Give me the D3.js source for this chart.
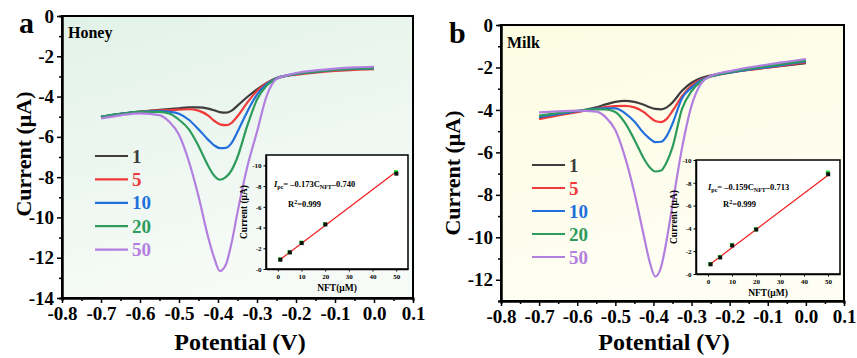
<!DOCTYPE html>
<html>
<head>
<meta charset="utf-8">
<script src="https://cdnjs.cloudflare.com/ajax/libs/d3/7.8.5/d3.min.js"></script>
<style>
  body { margin: 0; background: #fff; }
  svg text { font-family: "Liberation Serif", "Times New Roman", serif; font-weight: bold; }
</style>
</head>
<body>
<svg id="chart" width="857" height="358"></svg>
<script>
// potential grid (V) shared by every DPV curve
var potential = [-0.70, -0.65, -0.60, -0.55, -0.525, -0.50, -0.475, -0.45, -0.425, -0.41, -0.395, -0.38,
                 -0.365, -0.35, -0.325, -0.30, -0.275, -0.25, -0.225, -0.20, -0.15, -0.10, -0.05, 0.00];

var concLabels = ["1", "5", "10", "20", "50"];
var curveColors = ["#3d3d3d", "#f0393b", "#2170dc", "#2d9b5c", "#b27fe0"];

// honey, current (uA) for 1, 5, 10, 20, 50 uM NFT
var honey1  = [-5.00, -4.86, -4.75, -4.66, -4.62, -4.58, -4.54, -4.54, -4.60, -4.68, -4.77, -4.80, -4.70, -4.45, -4.02, -3.64, -3.32, -3.08, -2.96, -2.88, -2.77, -2.69, -2.63, -2.60];
var honey5  = [-5.02, -4.87, -4.76, -4.69, -4.67, -4.65, -4.63, -4.70, -4.95, -5.20, -5.38, -5.42, -5.30, -4.98, -4.30, -3.72, -3.34, -3.10, -2.98, -2.91, -2.81, -2.73, -2.67, -2.64];
var honey10 = [-5.00, -4.86, -4.76, -4.72, -4.75, -4.85, -5.15, -5.62, -6.15, -6.42, -6.56, -6.55, -6.30, -5.75, -4.75, -3.90, -3.38, -3.10, -2.96, -2.88, -2.77, -2.68, -2.63, -2.60];
var honey20 = [-5.00, -4.86, -4.76, -4.76, -4.84, -5.15, -5.62, -6.45, -7.45, -7.92, -8.13, -8.00, -7.65, -7.00, -5.45, -4.15, -3.45, -3.12, -2.96, -2.87, -2.76, -2.67, -2.62, -2.59];
var honey50 = [-5.08, -4.93, -4.83, -4.92, -5.25, -5.90, -7.20, -8.95, -11.00, -12.00, -12.66, -12.35, -11.25, -9.75, -7.50, -5.75, -3.95, -3.12, -2.95, -2.83, -2.70, -2.61, -2.55, -2.52];

// milk
var milk1  = [-4.38, -4.22, -4.07, -3.88, -3.74, -3.62, -3.57, -3.62, -3.76, -3.87, -3.95, -3.97, -3.88, -3.65, -3.10, -2.72, -2.50, -2.38, -2.29, -2.22, -2.10, -2.00, -1.90, -1.80];
var milk5  = [-4.44, -4.26, -4.10, -3.94, -3.87, -3.82, -3.81, -3.88, -4.10, -4.33, -4.52, -4.57, -4.42, -4.05, -3.35, -2.85, -2.57, -2.42, -2.33, -2.25, -2.12, -2.01, -1.88, -1.76];
var milk10 = [-4.33, -4.20, -4.06, -3.95, -3.92, -3.93, -4.15, -4.55, -5.10, -5.35, -5.52, -5.50, -5.22, -4.65, -3.45, -2.95, -2.60, -2.42, -2.32, -2.24, -2.10, -1.98, -1.85, -1.72];
var milk20 = [-4.27, -4.15, -4.04, -3.97, -3.98, -4.10, -4.60, -5.40, -6.30, -6.70, -6.90, -6.85, -6.45, -5.75, -3.95, -3.12, -2.65, -2.43, -2.31, -2.22, -2.07, -1.94, -1.81, -1.68];
var milk50 = [-4.12, -4.07, -4.03, -4.08, -4.35, -4.95, -6.20, -7.90, -9.95, -11.15, -11.85, -11.40, -10.10, -8.45, -5.80, -3.80, -2.75, -2.40, -2.26, -2.17, -2.00, -1.86, -1.73, -1.60];

// calibration insets
var nftConc = [1, 5, 10, 20, 50];
var honeyPeak  = [-0.90, -1.60, -2.50, -4.30, -9.20];
var honeyPeak2 = [-0.93, -1.63, -2.55, -4.32, -9.35];
var milkPeak   = [-0.85, -1.45, -2.50, -3.90, -8.75];
var milkPeak2  = [-0.88, -1.50, -2.55, -3.92, -8.90];
var honeyFit = { slope: -0.173, icept: -0.740, eq: ["-0.173", "-0.740"], r2: "0.999" };
var milkFit  = { slope: -0.159, icept: -0.713, eq: ["-0.159", "-0.713"], r2: "0.999" };

var xTicks = [-0.8, -0.7, -0.6, -0.5, -0.4, -0.3, -0.2, -0.1, 0.0, 0.1];

var serif = "Liberation Serif";

var svg = d3.select("#chart");
var defs = svg.append("defs");

function drawPanel(p) {
  var g = svg.append("g").attr("font-family", serif).attr("font-weight", "bold");
  var x = d3.scaleLinear().domain([-0.8, 0.1]).range([p.left, p.right]);
  var y = d3.scaleLinear().domain([0, p.yMin]).range([p.top, p.bottom]);

  var grad = defs.append("linearGradient").attr("id", "bg" + p.id)
      .attr("x1", 0).attr("y1", 0).attr("x2", 0.35).attr("y2", 1);
  grad.append("stop").attr("offset", "0%").attr("stop-color", p.bg[0]);
  grad.append("stop").attr("offset", "100%").attr("stop-color", p.bg[1]);

  g.append("rect")
      .attr("x", p.left).attr("y", p.top)
      .attr("width", p.right - p.left).attr("height", p.bottom - p.top)
      .attr("fill", "url(#bg" + p.id + ")");

  var line = d3.line()
      .x(function(d, i) { return x(potential[i]); })
      .y(function(d) { return y(d); })
      .curve(d3.curveMonotoneX);

  p.series.forEach(function(s, i) {
    g.append("path").datum(s)
        .attr("d", line)
        .attr("fill", "none")
        .attr("stroke", curveColors[i])
        .attr("stroke-width", 2.2);
  });

  // axes, major + minor ticks
  var yMajor = d3.range(0, p.yMin - 0.01, -2);
  var yMinor = d3.range(-1, p.yMin - 0.01, -2);
  g.append("g").attr("transform", "translate(" + p.left + ",0)")
      .call(d3.axisLeft(y).tickValues(yMajor).tickSize(5).tickSizeOuter(0).tickPadding(3)
            .tickFormat(function(d) { return p.yLabels.indexOf(d) >= 0 ? String(d) : ""; }))
      .call(styleAxis, 19);
  g.append("g").attr("transform", "translate(" + p.left + ",0)")
      .call(d3.axisLeft(y).tickValues(yMinor).tickSize(3).tickFormat(""))
      .call(styleAxis, 19);

  g.append("g").attr("transform", "translate(0," + p.bottom + ")")
      .call(d3.axisBottom(x).tickValues(xTicks).tickSize(5).tickSizeOuter(0).tickPadding(4)
            .tickFormat(function(d) { return d.toFixed(1); }))
      .call(styleAxis, 19);
  g.append("g").attr("transform", "translate(0," + p.bottom + ")")
      .call(d3.axisBottom(x).tickValues(d3.range(-0.75, 0.1, 0.1)).tickSize(3).tickFormat(""))
      .call(styleAxis, 19);

  g.append("rect")
      .attr("x", p.left).attr("y", p.top)
      .attr("width", p.right - p.left).attr("height", p.bottom - p.top)
      .attr("fill", "none").attr("stroke", "#000").attr("stroke-width", 2);

  // titles
  g.append("text").attr("x", p.xTitle).attr("y", 350)
      .attr("text-anchor", "middle").attr("font-size", 24).text("Potential (V)");
  g.append("text")
      .attr("transform", "translate(" + p.yTitle[0] + "," + p.yTitle[1] + ") rotate(-90)")
      .attr("text-anchor", "middle").attr("font-size", 22).text("Current (\u03bcA)");
  g.append("text").attr("x", p.letter[0]).attr("y", p.letter[1])
      .attr("font-size", 30).text(p.id);
  g.append("text").attr("x", p.left + 6).attr("y", p.nameY)
      .attr("font-size", 16).text(p.name);

  // legend
  concLabels.forEach(function(c, i) {
    var ly = p.legend[1] + i * p.legend[2];
    g.append("line")
        .attr("x1", p.legend[0]).attr("x2", p.legend[0] + 33)
        .attr("y1", ly).attr("y2", ly)
        .attr("stroke", curveColors[i]).attr("stroke-width", 2.2);
    g.append("text").attr("x", p.legend[0] + 37).attr("y", ly).attr("dy", "0.35em")
        .attr("font-size", 19).attr("fill", curveColors[i]).text(c);
  });

  drawInset(g, p);
}

function styleAxis(sel, fs) {
  sel.attr("font-family", serif).attr("font-size", fs);
  sel.select(".domain").attr("stroke-width", 2);
  sel.selectAll(".tick line").attr("stroke-width", 1.5);
  sel.selectAll("text").attr("fill", "#000");
}

function drawInset(g, p) {
  var b = p.inset;
  var ix = d3.scaleLinear().domain([-5, 55]).range([b[0], b[2]]);
  var iy = d3.scaleLinear().domain([0, p.insetMin]).range([b[3], b[1]]);
  var ig = g.append("g");

  ig.append("rect").attr("x", b[0]).attr("y", b[1])
      .attr("width", b[2] - b[0]).attr("height", b[3] - b[1])
      .attr("fill", "#fff");

  ig.append("g").attr("transform", "translate(" + b[0] + ",0)")
      .call(d3.axisLeft(iy).tickValues([0, -2, -4, -6, -8, -10]).tickSize(2.5).tickSizeOuter(0).tickPadding(2)
            .tickFormat(function(d) { return "-" + Math.abs(d); }))
      .call(styleInsetAxis);
  ig.append("g").attr("transform", "translate(0," + b[3] + ")")
      .call(d3.axisBottom(ix).tickValues([0, 10, 20, 30, 40, 50]).tickSize(2.5).tickSizeOuter(0).tickPadding(3))
      .call(styleInsetAxis);

  var fit = p.fit;
  ig.append("line")
      .attr("x1", ix(1)).attr("y1", iy(fit.slope * 1 + fit.icept))
      .attr("x2", ix(50)).attr("y2", iy(fit.slope * 50 + fit.icept))
      .attr("stroke", "#f01c1c").attr("stroke-width", 1.2);

  ig.selectAll(".pg").data(p.peaks2).enter().append("rect")
      .attr("x", function(d, i) { return ix(nftConc[i]) - 2.2; })
      .attr("y", function(d) { return iy(d) - 2; })
      .attr("width", 4).attr("height", 4).attr("fill", "#2ee02e");
  ig.selectAll(".pb").data(p.peaks).enter().append("rect")
      .attr("x", function(d, i) { return ix(nftConc[i]) - 1.8; })
      .attr("y", function(d) { return iy(d) - 2; })
      .attr("width", 4).attr("height", 4).attr("fill", "#111");

  ig.append("rect").attr("x", b[0]).attr("y", b[1])
      .attr("width", b[2] - b[0]).attr("height", b[3] - b[1])
      .attr("fill", "none").attr("stroke", "#000").attr("stroke-width", 1.5);

  var eq = ig.append("text").attr("x", p.eqPos[0]).attr("y", p.eqPos[1]).attr("font-size", 8.5);
  eq.append("tspan").attr("font-style", "italic").text("I");
  eq.append("tspan").attr("font-size", 6).attr("dy", 2).text("pc");
  eq.append("tspan").attr("dy", -2).text("= \u2013" + fit.eq[0].slice(1) + "C");
  eq.append("tspan").attr("font-size", 6).attr("dy", 2).text("NFT");
  eq.append("tspan").attr("dy", -2).text("\u2013" + fit.eq[1].slice(1));

  var r = ig.append("text").attr("x", p.r2Pos[0]).attr("y", p.r2Pos[1]).attr("font-size", 8.5);
  r.append("tspan").text("R");
  r.append("tspan").attr("font-size", 6).attr("dy", -3).text("2");
  r.append("tspan").attr("dy", 3).text("=" + fit.r2);

  ig.append("text")
      .attr("transform", "translate(" + (b[0] - 19) + "," + ((b[1] + b[3]) / 2) + ") rotate(-90)")
      .attr("text-anchor", "middle").attr("font-size", 9.5).text("Current (\u03bcA)");
  ig.append("text").attr("x", (b[0] + b[2]) / 2).attr("y", b[3] + 22)
      .attr("text-anchor", "middle").attr("font-size", 9.5).text("NFT(\u03bcM)");
}

function styleInsetAxis(sel) {
  sel.attr("font-family", serif).attr("font-size", 7);
  sel.select(".domain").attr("stroke-width", 1.5);
  sel.selectAll(".tick line").attr("stroke-width", 1);
  sel.selectAll("text").attr("fill", "#000");
}

drawPanel({
  id: "a", name: "Honey",
  left: 62, right: 413, top: 16, bottom: 298, yMin: -14,
  yLabels: [0, -2, -4, -6, -8, -10, -12, -14],
  bg: ["#e2f2e8", "#f7fbf8"],
  series: [honey1, honey5, honey10, honey20, honey50],
  xTitle: 240, yTitle: [31, 154], letter: [19, 33], nameY: 38,
  legend: [95, 156, 23.4],
  inset: [266, 155, 408, 269], insetMin: -11,
  peaks: honeyPeak, peaks2: honeyPeak2, fit: honeyFit,
  eqPos: [274, 187], r2Pos: [288, 207]
});

drawPanel({
  id: "b", name: "Milk",
  left: 501, right: 844, top: 25, bottom: 301, yMin: -13,
  yLabels: [0, -2, -4, -6, -8, -10, -12],
  bg: ["#fcfce2", "#fefef4"],
  series: [milk1, milk5, milk10, milk20, milk50],
  xTitle: 664, yTitle: [460, 173], letter: [449, 43], nameY: 48,
  legend: [532, 165, 23],
  inset: [696, 160, 840, 274], insetMin: -10,
  peaks: milkPeak, peaks2: milkPeak2, fit: milkFit,
  eqPos: [708, 190], r2Pos: [723, 207]
});
</script>
</body>
</html>
